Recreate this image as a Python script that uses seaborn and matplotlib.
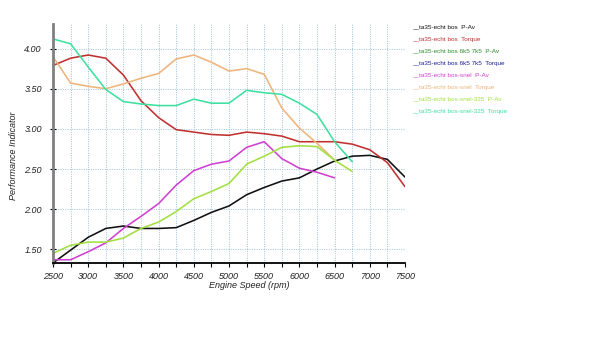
import numpy as np
import pandas as pd
import matplotlib
matplotlib.use("Agg")
import matplotlib.pyplot as plt
import seaborn as sns
from matplotlib.ticker import MultipleLocator, FormatStrFormatter

labels = [
    "__ta35-echt bos  P-Av",
    "__ta35-echt bos  Torque",
    "__ta35-echt bos 6k5 7k5  P-Av",
    "__ta35-echt bos 6k5 7k5  Torque",
    "__ta35-echt bos-snel  P-Av",
    "__ta35-echt bos-snel  Torque",
    "__ta35-echt bos-snel-325  P-Av",
    "__ta35-echt bos-snel-325  Torque",
]
colors = ["#111111", "#c03030", "#2e8b2e", "#1c1c9a",
          "#d040d0", "#eeb47c", "#a2e040", "#3ee0a0"]

rpm_full = [2500, 2750, 3000, 3250, 3500, 3750, 4000, 4250, 4500, 4750, 5000,
            5250, 5500, 5750, 6000, 6250, 6500, 6750, 7000, 7250, 7500]
rpm_6500 = rpm_full[:17]
rpm_6750 = rpm_full[:18]

bos_pav = [1.33, 1.49, 1.65, 1.76, 1.79, 1.76, 1.76, 1.77, 1.86, 1.96, 2.04,
           2.18, 2.27, 2.35, 2.39, 2.50, 2.60, 2.66, 2.67, 2.62, 2.40]
bos_torque = [3.79, 3.88, 3.92, 3.88, 3.67, 3.35, 3.14, 2.99, 2.96, 2.93, 2.92,
              2.96, 2.94, 2.91, 2.84, 2.84, 2.84, 2.81, 2.74, 2.58, 2.28]
snel_pav = [1.37, 1.37, 1.47, 1.58, 1.76, 1.91, 2.07, 2.30, 2.48, 2.56, 2.60,
            2.77, 2.84, 2.63, 2.51, 2.46, 2.39]
snel_torque = [3.90, 3.57, 3.53, 3.50, 3.56, 3.63, 3.69, 3.87, 3.92, 3.83, 3.72,
               3.75, 3.68, 3.26, 3.01, 2.82, 2.61]
snel325_pav = [1.45, 1.55, 1.59, 1.59, 1.64, 1.76, 1.84, 1.97, 2.13, 2.22, 2.32,
               2.56, 2.66, 2.77, 2.79, 2.78, 2.61, 2.47]
snel325_torque = [4.12, 4.06, 3.77, 3.49, 3.34, 3.31, 3.29, 3.29, 3.37, 3.32, 3.32,
                  3.48, 3.45, 3.43, 3.32, 3.18, 2.84, 2.59]

series = [
    (labels[0], rpm_full, bos_pav, colors[0]),
    (labels[1], rpm_full, bos_torque, colors[1]),
    (labels[4], rpm_6500, snel_pav, colors[4]),
    (labels[5], rpm_6500, snel_torque, colors[5]),
    (labels[6], rpm_6750, snel325_pav, colors[6]),
    (labels[7], rpm_6750, snel325_torque, colors[7]),
]
frames = [pd.DataFrame({"rpm": x, "value": y, "series": name})
          for name, x, y, c in series]
df = pd.concat(frames, ignore_index=True)
palette = {name: c for name, x, y, c in series}

sns.set_theme(style="white")
plt.rcParams["font.family"] = ["Liberation Sans", "DejaVu Sans"]

fig = plt.figure(figsize=(6, 3.6), dpi=100)
ax = fig.add_axes([53 / 600, 1 - 263.3 / 360, 352 / 600, 239.3 / 360])

sns.lineplot(data=df, x="rpm", y="value", hue="series", palette=palette,
             legend=False, ax=ax, linewidth=1.15, sort=False)

ax.set_xlim(2500, 7500)
ax.set_ylim(1.326, 4.306)
ax.xaxis.set_major_locator(MultipleLocator(500))
ax.xaxis.set_minor_locator(MultipleLocator(250))
ax.yaxis.set_major_locator(MultipleLocator(0.5))
ax.yaxis.set_major_formatter(FormatStrFormatter("%.2f"))

grid_kw = dict(color="#8fbcd6", linestyle=(0, (1.2, 1.6)), linewidth=0.6)
ax.grid(True, which="major", axis="both", **grid_kw)
ax.grid(True, which="minor", axis="x", **grid_kw)

for s in ["top", "right"]:
    ax.spines[s].set_visible(False)
ax.spines["left"].set_color("#808080")
ax.spines["left"].set_linewidth(2.0)
ax.spines["bottom"].set_color("#000000")
ax.spines["bottom"].set_linewidth(1.3)

ax.tick_params(axis="x", which="both", direction="out", length=3, width=0.8,
               color="black", labelsize=6.5, pad=3, bottom=True)
ax.tick_params(axis="y", which="major", direction="inout", length=4, width=0.8,
               color="black", labelsize=6.5, pad=6, left=True)
for lab in ax.get_xticklabels() + ax.get_yticklabels():
    lab.set_fontstyle("italic")
    lab.set_color("#222222")

ax.set_xlabel("Engine Speed (rpm)", fontsize=6.5, fontstyle="italic", color="#222222")
ax.xaxis.set_label_coords(0.558, -0.094)
ax.xaxis.label.set_verticalalignment("center")
ax.set_ylabel("Performance Indicator", fontsize=6.5, fontstyle="italic", color="#222222")
ax.yaxis.set_label_coords(-0.112, 0.448)
ax.yaxis.label.set_verticalalignment("center")

for i, (lab, c) in enumerate(zip(labels, colors)):
    fig.text(412 / 600, 1 - (27.3 + i * 12.0) / 360, lab, color=c,
             fontsize=4.6, va="center", ha="left")

fig.savefig("out.png", dpi=100)
